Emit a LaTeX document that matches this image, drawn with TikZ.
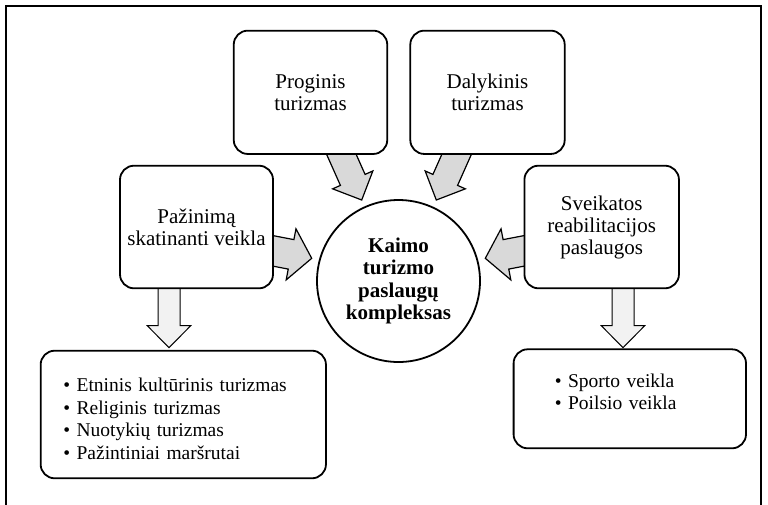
\documentclass[tikz,border=0pt]{standalone}
\usepackage{fontspec}
\setmainfont{Liberation Serif}
\usetikzlibrary{calc,shapes.geometric}
\pgfdeclarelayer{background}
\pgfsetlayers{background,main}

\definecolor{arrowgray}{HTML}{D9D9D9}
\definecolor{arrowlight}{HTML}{F2F2F2}

% Block arrow from #1 (tail) to #2 (tip):
% #3 half shaft width, #4 half head width, #5 head length, #6 style
\newcommand\myblockarrow[6]{%
  \path ($(#2)!#5!(#1)$) coordinate (ba-h);
  \draw[#6] ($(#1)!#3!90:(#2)$) -- ($(ba-h)!#3!90:(#2)$) -- ($(ba-h)!#4!90:(#2)$)
    -- (#2) -- ($(ba-h)!#4!-90:(#2)$) -- ($(ba-h)!#3!-90:(#2)$)
    -- ($(#1)!#3!-90:(#2)$) -- cycle;
}

\begin{document}
\begin{tikzpicture}[x=1pt,y=-1pt,
  box/.style={draw, line width=1.8pt, rounded corners=14pt, fill=white,
    inner sep=0pt, align=center, font=\fontsize{21}{22}\selectfont},
  listbox/.style={box, align=left, font=\fontsize{19.5}{22.6}\selectfont},
  hub/.style={draw, ellipse, line width=1.8pt, fill=white, inner sep=0pt,
    align=center, font=\fontsize{21}{22.4}\selectfont\bfseries},
  inarrow/.style={draw, line width=1.2pt, fill=arrowgray, line join=miter},
  outarrow/.style={draw, line width=1pt, fill=arrowlight, line join=miter}
]
\useasboundingbox (0,0) rectangle (768,504);

% outer frame (open at the bottom)
\draw[line width=1.2pt] (6,520) -- (6,6) -- (761,6) -- (761,520);

% boxes
\node[box, minimum width=153.5, minimum height=123.3] (prog) at (310.5,92.3)
  {Proginis\\turizmas};
\node[box, minimum width=154.4, minimum height=123.3] (daly) at (487.5,92.3)
  {Dalykinis\\turizmas};
\node[box, minimum width=153, minimum height=122.6] (paz) at (196.5,227)
  {Pažinimą\\skatinanti veikla};
\node[box, minimum width=154.5, minimum height=122.6] (sveik) at (601.7,227)
  {Sveikatos\\reabilitacijos\\paslaugos};
\node[hub, minimum width=163, minimum height=162] (hub) at (398.5,281)
  {Kaimo\\turizmo\\paslaugų\\kompleksas};
\node[listbox, minimum width=285.3, minimum height=127.6, text width=240,
  inner xsep=22.6] (listL) at (183.3,414.5)
  {\rule{0pt}{22pt}\textbullet\ Etninis kultūrinis turizmas\\
   \textbullet\ Religinis turizmas\\
   \textbullet\ Nuotykių turizmas\\
   \textbullet\ Pažintiniai maršrutai};
\node[listbox, minimum width=232.3, minimum height=99, text width=150,
  inner xsep=41.2] (listR) at (629.8,398.8)
  {\textbullet\ Sporto veikla\\
   \textbullet\ Poilsio veikla\rule[-14pt]{0pt}{0pt}};

% arrow end points
\coordinate (t1) at (335,140);   \coordinate (h1) at (361.7,200);
\coordinate (t2) at (463,140);   \coordinate (h2) at (436.3,200);
\coordinate (t3) at (258,248);   \coordinate (h3) at (311.7,258.3);
\coordinate (t4) at (539,248);   \coordinate (h4) at (485.3,258.3);
\coordinate (t5) at (169,280);   \coordinate (h5) at (169,347.7);
\coordinate (t6) at (623,280);   \coordinate (h6) at (623,347.7);

\begin{pgfonlayer}{background}
  \myblockarrow{t1}{h1}{13.5pt}{22pt}{22pt}{inarrow}
  \myblockarrow{t2}{h2}{13.5pt}{22pt}{22pt}{inarrow}
  \myblockarrow{t3}{h3}{15pt}{26pt}{21pt}{inarrow}
  \myblockarrow{t4}{h4}{15pt}{26pt}{21pt}{inarrow}
  \myblockarrow{t5}{h5}{11pt}{21.7pt}{22pt}{outarrow}
  \myblockarrow{t6}{h6}{11pt}{21.7pt}{22pt}{outarrow}
\end{pgfonlayer}
\end{tikzpicture}
\end{document}
